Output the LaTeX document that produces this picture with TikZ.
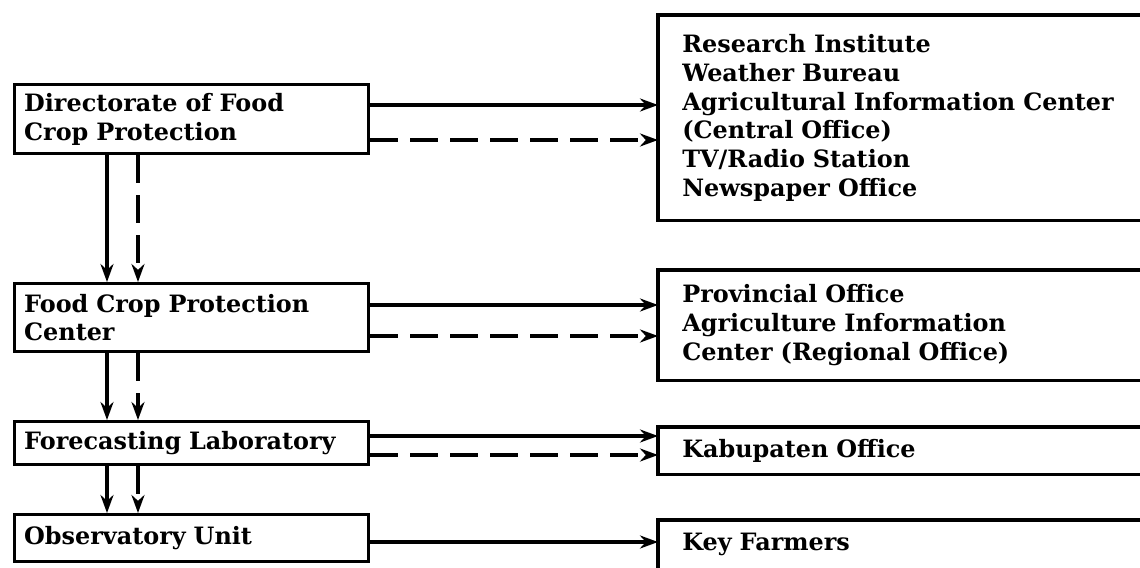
\documentclass[tikz,border=0pt]{standalone}
\usepackage{fontspec}
\setmainfont{DejaVu Serif}
\usetikzlibrary{arrows.meta}

\begin{document}
\begin{tikzpicture}[x=0.02cm, y=-0.02cm,
    unit/.style={draw, line width=1.9pt, anchor=north west, minimum width=7.08cm,
      text width=6.7cm, inner xsep=0.19cm, inner ysep=0pt, align=left},
    office/.style={anchor=north west, minimum width=9.66cm, text width=8.7cm,
      inner xsep=0.48cm, inner ysep=0pt, align=left},
    frame/.style={line width=1.8pt},
    flow/.style={line width=2pt, -{Stealth[length=0.36cm, width=0.26cm]}},
    lateflow/.style={flow, dash pattern=on 0.55cm off 0.25cm},
    font=\bfseries\fontsize{13.6}{16.4}\selectfont]

  \useasboundingbox (0,0) rectangle (1140,568);

  \node[unit, minimum height=1.38cm] (dir) at (13,83) {Directorate of Food\\Crop Protection};
  \node[unit, minimum height=1.36cm] (center) at (13,282) {Food Crop Protection\\Center};
  \node[unit, minimum height=0.86cm] (lab) at (13,420) {Forecasting Laboratory};
  \node[unit, minimum height=0.94cm] (obs) at (13,513) {Observatory Unit};

  \node[office, minimum height=4.1cm] (inst) at (658,15) {Research Institute\\Weather Bureau\\Agricultural Information Center\\(Central Office)\\TV/Radio Station\\Newspaper Office};
  \node[office, minimum height=2.2cm] (prov) at (658,270) {Provincial Office\\Agriculture Information\\Center (Regional Office)};
  \node[office, minimum height=0.94cm] (kab) at (658,427) {Kabupaten Office};
  \node[office, minimum height=0.96cm] (farm) at (658,520) {Key Farmers};

  \draw[frame] (inst.north east) -- (inst.north west) -- (inst.south west) -- (inst.south east);
  \draw[frame] (prov.north east) -- (prov.north west) -- (prov.south west) -- (prov.south east);
  \draw[frame] (kab.north east) -- (kab.north west) -- (kab.south west) -- (kab.south east);
  \draw[frame] (farm.north east) -- (farm.north west) -- (farm.south west);

  \draw[flow] (dir.east |- 0,105) -- (inst.west |- 0,105);
  \draw[lateflow] (dir.east |- 0,140) -- (inst.west |- 0,140);
  \draw[flow] (center.east |- 0,305) -- (prov.west |- 0,305);
  \draw[lateflow] (center.east |- 0,336) -- (prov.west |- 0,336);
  \draw[flow] (lab.east |- 0,436) -- (kab.west |- 0,436);
  \draw[lateflow] (lab.east |- 0,455) -- (kab.west |- 0,455);
  \draw[flow] (obs.east |- 0,542) -- (farm.west |- 0,542);

  \draw[flow] (dir.south -| 107,0) -- (center.north -| 107,0);
  \draw[lateflow] (dir.south -| 138,0) -- (center.north -| 138,0);
  \draw[flow] (center.south -| 107,0) -- (lab.north -| 107,0);
  \draw[lateflow] (center.south -| 138,0) -- (lab.north -| 138,0);
  \draw[flow] (lab.south -| 107,0) -- (obs.north -| 107,0);
  \draw[lateflow] (lab.south -| 138,0) -- (obs.north -| 138,0);
\end{tikzpicture}
\end{document}
